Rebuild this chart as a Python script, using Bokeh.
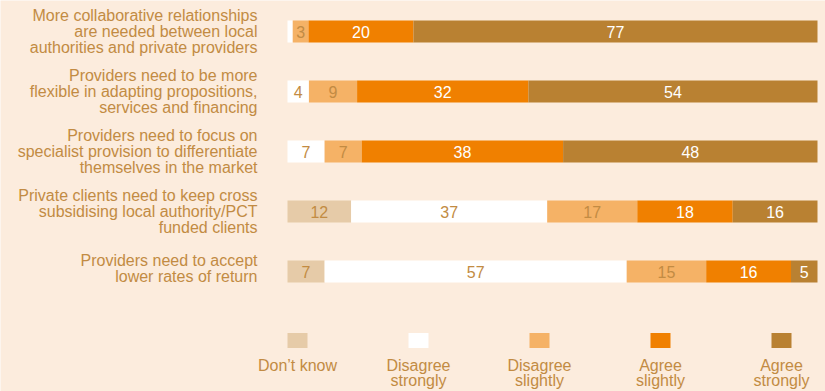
from bokeh.plotting import figure
from bokeh.models import ColumnDataSource, Range1d
from bokeh.core.properties import value
from bokeh.embed import file_html
from bokeh.resources import INLINE

statements = [
    "More collaborative relationships\nare needed between local\nauthorities and private providers",
    "Providers need to be more\nflexible in adapting propositions,\nservices and financing",
    "Providers need to focus on\nspecialist provision to differentiate\nthemselves in the market",
    "Private clients need to keep cross\nsubsidising local authority/PCT\nfunded clients",
    "Providers need to accept\nlower rates of return",
]
series_names = ["Don\u2019t know", "Disagree\nstrongly", "Disagree\nslightly", "Agree\nslightly", "Agree\nstrongly"]
dont_know = [0, 0, 0, 12, 7]
disagree_strongly = [1, 4, 7, 37, 57]
disagree_slightly = [3, 9, 7, 17, 15]
agree_slightly = [20, 32, 38, 18, 16]
agree_strongly = [77, 54, 48, 16, 5]

series = [dont_know, disagree_strongly, disagree_slightly, agree_slightly, agree_strongly]
colors = ["#E6CBA8", "#FFFFFF", "#F5B266", "#F08000", "#B98132"]
num_colors = ["#C28B43", "#C28B43", "#C28B43", "#FFFFFF", "#FFFFFF"]
BG = "#FCECDD"
TXT = "#C28B43"
FONT = "Liberation Sans"

p = figure(width=825, height=391, output_backend="svg", toolbar_location=None,
           x_range=Range1d(-287 / 5.3, (825 - 287) / 5.3),
           y_range=Range1d((391 - 31) / 60.0, -31 / 60.0),
           min_border=0, min_border_left=0, min_border_right=0,
           min_border_top=0, min_border_bottom=0)
p.axis.visible = False
p.grid.visible = False
p.outline_line_color = None
p.background_fill_color = BG
p.border_fill_color = BG

n = len(statements)
totals = [sum(s[i] for s in series) for i in range(n)]
cum = [0.0] * n
for k, s in enumerate(series):
    left = [cum[i] for i in range(n)]
    right = [cum[i] + 100.0 * s[i] / totals[i] for i in range(n)]
    cum = right
    src = ColumnDataSource(dict(y=list(range(n)), left=left, right=right,
                                mid=[(l + r) / 2 for l, r in zip(left, right)],
                                lab=[str(v) if v >= 3 else "" for v in s]))
    p.hbar(y="y", left="left", right="right", height=22 / 60.0, source=src,
           fill_color=colors[k], line_color=None)
    p.text(x="mid", y="y", text="lab", source=src, text_align="center",
           text_baseline="middle", text_color=num_colors[k],
           text_font=value(FONT), text_font_size="16px")

p.text(x=[-30 / 5.3] * n, y=[0, 1, 2, 3, 2.95 + 1], text=statements, text_align="right",
       text_baseline="middle", text_color=TXT, text_font=value(FONT),
       text_font_size="16px", text_line_height=0.93)

leg_x = [10 / 5.3 + 121 * i / 5.3 for i in range(5)]
p.rect(x=leg_x, y=[(340 - 31) / 60.0] * 5, width=20, height=15,
       width_units="screen", height_units="screen",
       fill_color=colors, line_color=None)
p.text(x=leg_x, y=[(356 - 31) / 60.0] * 5, text=series_names, text_align="center",
       text_baseline="top", text_color=TXT, text_font=value(FONT),
       text_font_size="16px", text_line_height=0.93)

open("out.html", "w").write(file_html(p, INLINE))
